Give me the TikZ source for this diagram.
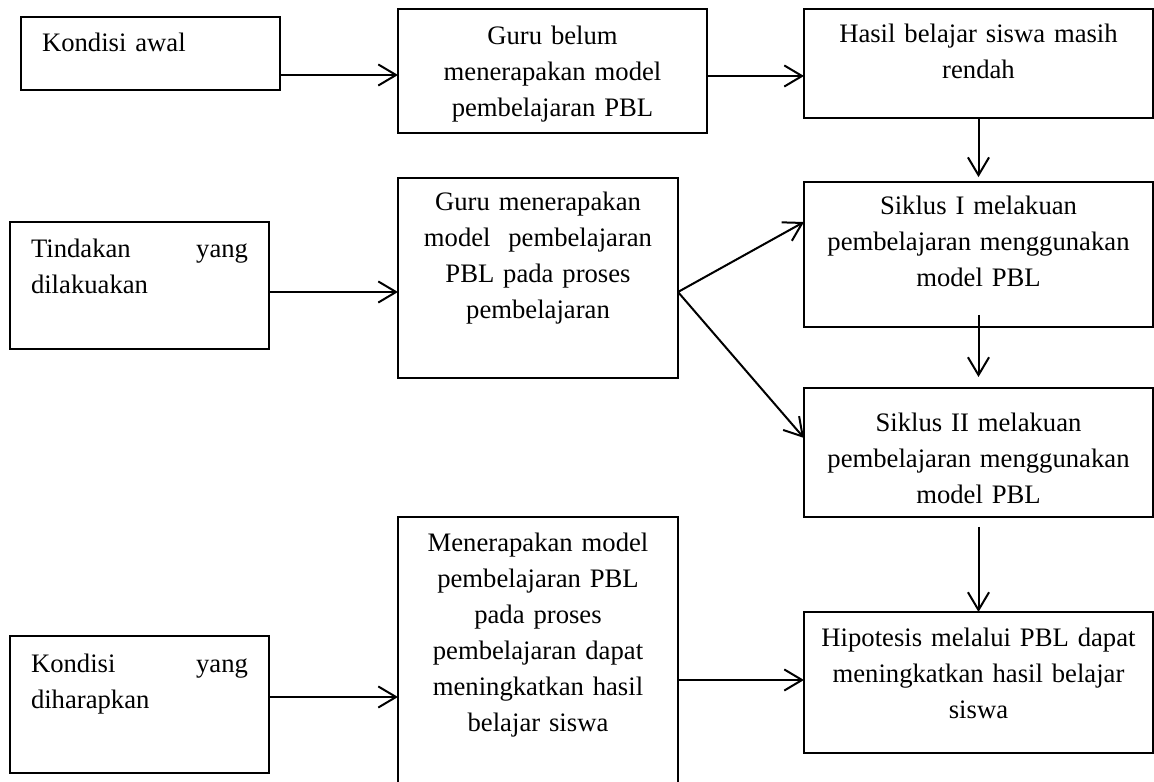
\documentclass[tikz,border=0pt]{standalone}
\usepackage{fontspec}
\setmainfont{Liberation Serif}
\usetikzlibrary{arrows.meta}

\begin{document}
\begin{tikzpicture}[x=0.45pt,y=-0.45pt,
  kotak/.style={draw, line width=0.5pt, inner xsep=4pt, inner ysep=0pt,
    outer sep=0pt, anchor=north west, align=center, text height=15.75pt,
    font=\fontsize{12pt}{16.2pt}\selectfont},
  kiri/.style={kotak, inner xsep=9.45pt, align=left, text width=97.65pt},
  panah/.style={->, line width=0.9pt},
  >={Straight Barb[length=8pt,width=9.5pt]}]
  \useasboundingbox (0,0) rectangle (1154,782);

  % kolom kiri
  \node (awal)     at (21,17)   [kiri, text depth=17.1pt] {Kondisi awal};
  \node (tindakan) at (10,222)  [kiri, text height=16.2pt, text depth=40.95pt] {Tindakan \hfill yang\\dilakuakan};
  \node (harap)    at (10,636)  [kiri, text height=16.65pt, text depth=45pt] {Kondisi \hfill yang\\diharapkan};

  % kolom tengah
  \node (belum)    at (398,9)   [kotak, text width=131.05pt, text height=16.2pt, text depth=39.6pt] {Guru belum\\menerapakan model\\pembelajaran PBL};
  \node (guru)     at (398,178) [kotak, text width=118pt, text height=14.85pt, text depth=75.15pt] {Guru menerapakan\\model~~pembelajaran\\PBL pada proses\\pembelajaran};
  \node (terapkan) at (398,517) [kotak, text width=118pt, text depth=110.25pt] {Menerapakan model\\pembelajaran PBL\\pada proses\\pembelajaran dapat\\meningkatkan hasil\\belajar siswa};

  % kolom kanan
  \node (rendah)    at (804,9)   [kotak, text width=149.05pt, text height=15.3pt, text depth=33.75pt] {Hasil belajar siswa masih\\rendah};
  \node (siklus1)   at (804,182) [kotak, text width=149.05pt, text height=14.85pt, text depth=50.4pt] {Siklus I melakuan\\pembelajaran menggunakan\\model PBL};
  \node (siklus2)   at (804,388) [kotak, text width=149.05pt, text height=19.8pt, text depth=38.25pt] {Siklus II melakuan\\pembelajaran menggunakan\\model PBL};
  \node (hipotesis) at (804,612) [kotak, text width=149.05pt, text depth=47.7pt] {Hipotesis melalui PBL dapat\\meningkatkan hasil belajar\\siswa};

  \draw[panah] (awal.east |- 0,75) -- (belum.west |- 0,75);
  \draw[panah] (belum.east |- 0,76) -- (rendah.west |- 0,76);
  \draw[panah] (rendah.south) -- ([yshift=2.2pt]siklus1.north);
  \draw[panah] (tindakan.east |- 0,292) -- (guru.west |- 0,292);
  \draw[panah] (guru.east |- 0,292) -- (siklus1.west |- 0,222);
  \draw[panah] (guru.east |- 0,292) -- (siklus2.west |- 0,438);
  \draw[panah] ([yshift=5.4pt]siklus1.south) -- ([yshift=4.95pt]siklus2.north);
  \draw[panah] ([yshift=-4.5pt]siklus2.south) -- (hipotesis.north);
  \draw[panah] (harap.east |- 0,697) -- (terapkan.west |- 0,697);
  \draw[panah] (terapkan.east |- 0,680) -- (hipotesis.west |- 0,680);
\end{tikzpicture}
\end{document}
